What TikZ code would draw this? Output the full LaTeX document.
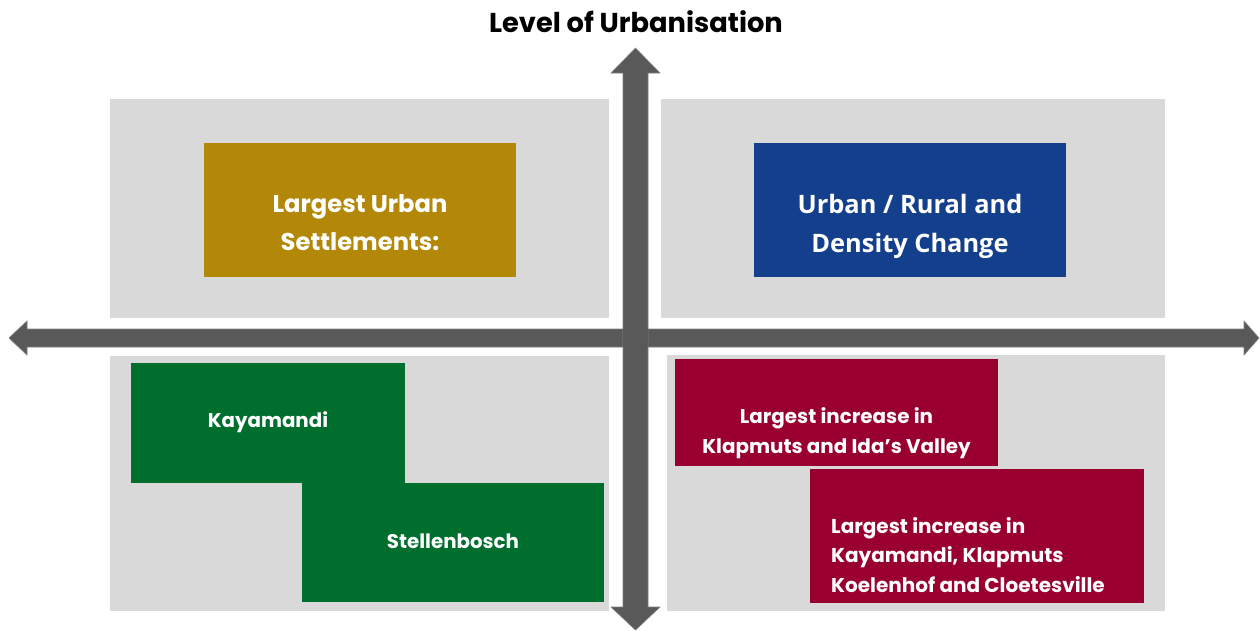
\documentclass[tikz,border=0pt]{standalone}
\usepackage{fontspec}
\setmainfont{Poppins}
\newfontfamily\segoe{Open Sans}
\definecolor{panelgrey}{HTML}{D9D9D9}
\definecolor{axisgrey}{HTML}{595959}
\definecolor{axisedge}{HTML}{7F7F7F}
\definecolor{goldbox}{HTML}{B38808}
\definecolor{bluebox}{HTML}{143F8C}
\definecolor{redbox}{HTML}{990030}
\definecolor{greenbox}{HTML}{006F2E}
\begin{document}
\begin{tikzpicture}[x=1pt,y=-1pt,
  panel/.style={fill=panelgrey,draw=none},
  box/.style={draw=none,inner sep=0pt,outer sep=0pt},
  lbl/.style={text=white,inner sep=0pt,anchor=base,font=\bfseries\fontsize{#1}{#1}\selectfont},
  bluelbl/.style={text=white,inner sep=0pt,anchor=base,font=\segoe\bfseries\fontsize{#1}{#1}\selectfont},
  axis/.style={fill=axisgrey,draw=axisedge,line width=0.6pt,line join=miter}]
\useasboundingbox (0,0) rectangle (1260,630);
% panels
\fill[panel] (110,99) rectangle (609,318);
\fill[panel] (661,99) rectangle (1165,318);
\fill[panel] (110,356) rectangle (609,611);
\fill[panel] (667,355) rectangle (1165,611);
% axes
\draw[axis] (27,329) -- (1244,329) -- (1244,321) -- (1259,338) -- (1244,355) -- (1244,347)
  -- (27,347) -- (27,355) -- (9,338) -- (27,321) -- cycle;
\draw[axis] (623,73) -- (611,73) -- (635.5,48) -- (660,73) -- (648,73) -- (648,607)
  -- (660,607) -- (635.5,630) -- (611,607) -- (623,607) -- cycle;
\fill[axisgrey] (623.4,329.4) rectangle (647.6,346.6);
% title
\node[lbl=27.3, text=black] (title) at (636,32) {Level of Urbanisation};
% boxes
\node[box,fill=goldbox,minimum width=312pt,minimum height=134pt] (gold) at (360,210) {};
\node[lbl=24.2] (gold1) at (360,212) {Largest Urban};
\node[lbl=24.2] (gold2) at (360,250) {Settlements:};
\node[box,fill=bluebox,minimum width=312pt,minimum height=134pt] (blue) at (910,210) {};
\node[bluelbl=25.4] (blue1) at (910,213) {Urban / Rural and};
\node[bluelbl=25.4] (blue2) at (910,252) {Density Change};
\node[box,fill=greenbox,minimum width=274pt,minimum height=120pt] (kaya) at (268,423) {};
\node[lbl=19.8] (kaya1) at (268,427) {Kayamandi};
\node[box,fill=greenbox,minimum width=302pt,minimum height=119pt] (stel) at (453,542.5) {};
\node[lbl=19.8] (stel1) at (453,548) {Stellenbosch};
\node[box,fill=redbox,minimum width=323pt,minimum height=107pt] (red1) at (836.5,412.5) {};
\node[lbl=19.9] (red1a) at (836.5,423) {Largest increase in};
\node[lbl=19.9] (red1b) at (836.5,453) {Klapmuts and Ida’s Valley};
\node[box,fill=redbox,minimum width=334pt,minimum height=134pt] (red2) at (977,536) {};
\node[lbl=20,anchor=base west] (red2a) at (831,533) {Largest increase in};
\node[lbl=20,anchor=base west] (red2b) at (831,562) {Kayamandi, Klapmuts};
\node[lbl=20,anchor=base west] (red2c) at (831,592) {Koelenhof and Cloetesville};
\end{tikzpicture}
\end{document}
